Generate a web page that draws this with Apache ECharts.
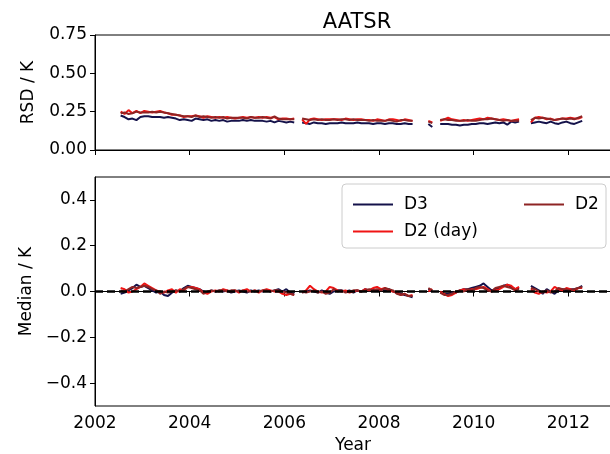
<!DOCTYPE html>
<html lang="en">
<head>
    <meta charset="utf-8">
    <title>AATSR</title>
    <script src="https://cdn.jsdelivr.net/npm/echarts@6/dist/echarts.min.js"></script>
    <style>
        html, body { margin: 0; padding: 0; background: #fff; }
        #main { width: 610px; height: 454px; }
    </style>
</head>
<body>
<div id="main"></div>
<script type="text/javascript">
    // monthly values, first point = July 2002, last = April 2012 (null = no data)
    var startYear = 2002, startMonth = 7;

    var rsdD3 = [
        0.225, 0.215, 0.2, 0.205, 0.195, 0.215,
        0.22, 0.22, 0.215, 0.215, 0.215, 0.21, 0.215, 0.21, 0.205, 0.195, 0.2, 0.195,
        0.19, 0.205, 0.2, 0.195, 0.2, 0.19, 0.195, 0.19, 0.195, 0.185, 0.19, 0.19,
        0.19, 0.195, 0.19, 0.195, 0.19, 0.19, 0.19, 0.185, 0.19, 0.18, 0.19, 0.185,
        0.18, 0.185, 0.18, null, 0.18, 0.175, 0.17, 0.18, 0.175, 0.175, 0.17, 0.175,
        0.175, 0.175, 0.18, 0.175, 0.175, 0.175, 0.18, 0.175, 0.175, 0.175, 0.17, 0.175,
        0.175, 0.17, 0.175, 0.175, 0.17, 0.17, 0.175, 0.17, 0.17, null, null, null,
        0.17, 0.15, null, 0.17, 0.17, 0.17, 0.165, 0.165, 0.16, 0.165, 0.165, 0.17,
        0.17, 0.175, 0.175, 0.17, 0.175, 0.18, 0.175, 0.18, 0.165, 0.185, 0.18, 0.185,
        null, null, 0.175, 0.18, 0.185, 0.18, 0.175, 0.185, 0.175, 0.17, 0.18, 0.185,
        0.175, 0.17, 0.18, 0.19
    ];
    var rsdD2 = [
        0.24, 0.245, 0.235, 0.24, 0.25, 0.245,
        0.245, 0.245, 0.25, 0.245, 0.25, 0.245, 0.24, 0.235, 0.23, 0.225, 0.22, 0.22,
        0.215, 0.225, 0.215, 0.22, 0.215, 0.21, 0.215, 0.21, 0.215, 0.205, 0.21, 0.21,
        0.21, 0.21, 0.205, 0.215, 0.21, 0.21, 0.215, 0.21, 0.205, 0.22, 0.205, 0.2,
        0.2, 0.2, 0.2, null, 0.205, 0.2, 0.195, 0.2, 0.195, 0.2, 0.195, 0.195,
        0.2, 0.195, 0.2, 0.2, 0.195, 0.2, 0.195, 0.195, 0.195, 0.19, 0.195, 0.19,
        0.19, 0.19, 0.195, 0.19, 0.185, 0.195, 0.195, 0.19, 0.19, null, null, null,
        0.185, 0.175, null, 0.195, 0.2, 0.195, 0.195, 0.19, 0.19, 0.19, 0.195, 0.19,
        0.19, 0.195, 0.2, 0.2, 0.205, 0.2, 0.195, 0.19, 0.195, 0.19, 0.19, 0.19,
        null, null, 0.195, 0.21, 0.205, 0.21, 0.205, 0.2, 0.195, 0.2, 0.205, 0.2,
        0.205, 0.2, 0.21, 0.22
    ];
    var rsdD2day = [
        0.25, 0.235, 0.26, 0.24, 0.255, 0.24,
        0.255, 0.25, 0.245, 0.25, 0.255, 0.245, 0.24, 0.23, 0.23, 0.225, 0.215, 0.22,
        0.22, 0.225, 0.22, 0.21, 0.22, 0.215, 0.21, 0.215, 0.21, 0.215, 0.21, 0.205,
        0.21, 0.215, 0.21, 0.215, 0.21, 0.215, 0.21, 0.215, 0.21, 0.215, 0.2, 0.205,
        0.205, 0.2, 0.205, null, 0.2, 0.17, 0.2, 0.205, 0.2, 0.195, 0.2, 0.2,
        0.2, 0.2, 0.195, 0.205, 0.2, 0.195, 0.2, 0.2, 0.195, 0.195, 0.19, 0.2,
        0.195, 0.19, 0.2, 0.2, 0.195, 0.19, 0.2, 0.195, 0.19, null, null, null,
        0.19, 0.18, null, 0.19, 0.2, 0.21, 0.2, 0.195, 0.19, 0.195, 0.19, 0.195,
        0.2, 0.205, 0.2, 0.21, 0.205, 0.2, 0.195, 0.2, 0.195, 0.19, 0.195, 0.2,
        null, null, 0.18, 0.21, 0.215, 0.21, 0.2, 0.205, 0.195, 0.2, 0.205, 0.205,
        0.21, 0.205, 0.205, 0.215
    ];

    var medD3 = [
        -0.01, -0.005, 0.005, 0.015, 0.03, 0.02,
        0.025, 0.015, 0.005, -0.005, 0.0, -0.015, -0.02, -0.005, 0.005, 0.0, 0.015, 0.025,
        0.02, 0.015, 0.01, 0.0, -0.005, 0.005, 0.0, 0.005, 0.0, 0.005, -0.005, 0.0,
        0.005, 0.0, -0.005, 0.005, 0.0, 0.005, 0.0, 0.005, 0.0, 0.005, 0.01, 0.0,
        0.01, -0.005, -0.01, null, -0.005, 0.0, 0.005, 0.0, -0.005, 0.005, -0.005, -0.01,
        0.0, 0.005, 0.005, 0.0, 0.005, -0.005, 0.005, 0.0, 0.01, 0.005, 0.01, 0.005,
        0.01, 0.005, 0.01, 0.0, -0.005, -0.01, -0.015, -0.02, -0.025, null, null, null,
        0.01, 0.0, null, -0.005, -0.01, -0.01, -0.005, -0.005, 0.005, 0.01, 0.01, 0.015,
        0.02, 0.025, 0.035, 0.02, 0.005, 0.01, 0.015, 0.025, 0.03, 0.02, 0.01, 0.015,
        null, null, 0.025, 0.015, 0.005, -0.01, 0.01, 0.0, -0.01, 0.005, 0.01, 0.005,
        0.01, 0.01, 0.015, 0.025
    ];
    var medD2 = [
        0.005, 0.0, 0.01, 0.02, 0.015, 0.02,
        0.025, 0.02, 0.01, 0.005, -0.01, 0.0, -0.005, 0.0, 0.005, 0.0, 0.01, 0.02,
        0.015, 0.01, 0.005, -0.01, 0.0, 0.005, 0.0, 0.005, 0.005, 0.0, 0.005, 0.005,
        0.0, 0.005, 0.0, 0.0, 0.005, 0.0, 0.005, 0.005, 0.0, 0.005, 0.005, 0.0,
        -0.005, -0.01, -0.015, null, 0.0, -0.005, 0.0, 0.005, -0.005, 0.0, -0.01, -0.005,
        0.01, 0.0, 0.005, -0.005, 0.0, 0.005, 0.005, 0.0, 0.005, 0.01, 0.005, 0.01,
        0.005, 0.015, 0.01, 0.005, -0.01, -0.015, -0.01, -0.02, -0.02, null, null, null,
        0.015, 0.005, null, -0.005, -0.015, -0.015, -0.01, 0.0, 0.005, 0.0, 0.01, 0.005,
        0.015, 0.02, 0.015, 0.005, 0.0, 0.015, 0.02, 0.025, 0.02, 0.015, 0.005, 0.01,
        null, null, 0.015, 0.01, 0.0, -0.005, 0.005, -0.005, 0.0, 0.015, 0.01, 0.01,
        0.005, 0.01, 0.015, 0.02
    ];
    var medD2day = [
        0.015, 0.01, -0.005, 0.0, 0.01, 0.02,
        0.035, 0.025, 0.015, 0.005, 0.0, -0.005, 0.005, 0.01, -0.005, 0.01, 0.005, 0.02,
        0.02, 0.015, 0.01, -0.005, -0.01, 0.0, 0.005, 0.0, 0.01, 0.005, 0.0, 0.005,
        -0.005, 0.005, 0.01, 0.0, 0.005, -0.005, 0.005, 0.01, 0.005, 0.0, 0.0, -0.01,
        -0.015, -0.01, -0.015, null, -0.005, 0.005, 0.025, 0.01, 0.0, -0.005, 0.0, 0.02,
        0.015, 0.005, 0.0, 0.005, -0.005, 0.0, 0.005, 0.0, 0.01, 0.005, 0.015, 0.02,
        0.01, 0.015, 0.005, 0.0, -0.005, -0.015, -0.01, -0.02, -0.015, null, null, null,
        0.0, 0.01, null, 0.0, -0.01, -0.02, -0.015, -0.005, 0.005, 0.01, 0.005, 0.01,
        0.01, 0.015, 0.02, 0.01, 0.0, 0.005, 0.01, 0.02, 0.03, 0.025, 0.01, 0.02,
        null, null, 0.01, -0.005, -0.01, 0.0, -0.005, 0.0, 0.02, 0.01, 0.005, 0.015,
        0.01, 0.005, 0.015, 0.015
    ];

    var yearTicks = [2002, 2004, 2006, 2008, 2010, 2012];
    var rsdTicks = [0, 0.25, 0.5, 0.75];
    var medTicks = [-0.4, -0.2, 0, 0.2, 0.4];

    var colD3 = '#14124a';
    var colD2 = '#8e2424';
    var colDay = '#f01414';
    var FONT = 'DejaVu Sans';
    var FS = 17;

    function pairs(arr) {
        return arr.map(function (v, i) {
            var t = startYear + (startMonth - 1 + i + 0.5) / 12;
            return [t, v == null ? '-' : v];
        });
    }

    function xAxis(idx, labels) {
        return {
            type: 'value', gridIndex: idx, min: 2002, max: 2012.9,
            name: labels ? 'Year' : '', nameLocation: 'middle', nameGap: 30,
            nameTextStyle: {fontFamily: FONT, fontSize: FS, color: '#000'},
            axisLine: {lineStyle: {color: '#000', width: 1}},
            axisTick: {show: true, length: 5, customValues: yearTicks, lineStyle: {color: '#000'}},
            axisLabel: {show: labels, customValues: yearTicks, margin: 9,
                fontFamily: FONT, fontSize: FS, color: '#000',
                formatter: function (v) { return String(Math.round(v)); }},
            splitLine: {show: false}
        };
    }

    function line(name, data, color, xi, z) {
        return {
            name: name, type: 'line', xAxisIndex: xi, yAxisIndex: xi,
            data: pairs(data), showSymbol: false, z: z,
            lineStyle: {color: color, width: 2}, itemStyle: {color: color},
            animation: false
        };
    }

    var myChart = echarts.init(document.getElementById('main'), null, {renderer: 'canvas'});

    // zero reference line, drawn above the data like in the original
    var zeroLine = {
        name: 'zero', type: 'line', xAxisIndex: 1, yAxisIndex: 1, z: 6,
        data: [], silent: true, animation: false,
        markLine: {
            silent: true, symbol: 'none', animation: false,
            label: {show: false},
            lineStyle: {color: '#000', type: [8, 4], width: 2.5, opacity: 1},
            data: [{yAxis: 0}]
        }
    };

    myChart.setOption({
        animation: false,
        title: {
            text: 'AATSR', left: 352, top: 7, textAlign: 'center',
            textStyle: {fontFamily: FONT, fontSize: 21, fontWeight: 'normal', color: '#000'}
        },
        graphic: [{
            type: 'rect', z: 50,
            shape: {x: 342, y: 184, width: 264, height: 64, r: 4},
            style: {fill: 'rgba(255,255,255,0.85)', stroke: '#cccccc', lineWidth: 1}
        }],
        legend: [{
            orient: 'vertical', left: 348, top: 190, z: 60,
            data: ['D3', 'D2 (day)'], icon: 'rect', itemWidth: 40, itemHeight: 2, itemGap: 8,
            textStyle: {fontFamily: FONT, fontSize: FS, color: '#000', lineHeight: 19, padding: [0, 0, 0, 6]}
        }, {
            orient: 'vertical', left: 519, top: 190, z: 60,
            data: ['D2'], icon: 'rect', itemWidth: 40, itemHeight: 2,
            textStyle: {fontFamily: FONT, fontSize: FS, color: '#000', lineHeight: 19, padding: [0, 0, 0, 6]}
        }],
        grid: [
            {left: 95, top: 35, right: -1, height: 115, show: true, borderColor: '#000', borderWidth: 1,
                outerBoundsMode: 'none', containLabel: false},
            {left: 95, top: 177, right: -1, height: 229, show: true, borderColor: '#000', borderWidth: 1,
                outerBoundsMode: 'none', containLabel: false}
        ],
        xAxis: [xAxis(0, false), xAxis(1, true)],
        yAxis: [{
            type: 'value', gridIndex: 0, min: 0, max: 0.75,
            name: 'RSD / K', nameLocation: 'middle', nameGap: 58,
            nameTextStyle: {fontFamily: FONT, fontSize: FS, color: '#000'},
            axisLine: {show: true, lineStyle: {color: '#000'}},
            axisTick: {show: true, length: 5, customValues: rsdTicks, lineStyle: {color: '#000'}},
            axisLabel: {customValues: rsdTicks, margin: 8, fontFamily: FONT, fontSize: FS, color: '#000',
                formatter: function (v) { return v.toFixed(2); }},
            splitLine: {show: false}
        }, {
            type: 'value', gridIndex: 1, min: -0.5, max: 0.5,
            name: 'Median / K', nameLocation: 'middle', nameGap: 58,
            nameTextStyle: {fontFamily: FONT, fontSize: FS, color: '#000'},
            axisLine: {show: true, lineStyle: {color: '#000'}},
            axisTick: {show: true, length: 5, customValues: medTicks, lineStyle: {color: '#000'}},
            axisLabel: {customValues: medTicks, margin: 8, fontFamily: FONT, fontSize: FS, color: '#000',
                formatter: function (v) {
                    return (v < -1e-9 ? '\u2212' : '') + Math.abs(v).toFixed(1);
                }},
            splitLine: {show: false}
        }],
        series: [
            line('D3', rsdD3, colD3, 0, 2),
            line('D2 (day)', rsdD2day, colDay, 0, 3),
            line('D2', rsdD2, colD2, 0, 4),
            line('D3', medD3, colD3, 1, 2),
            line('D2 (day)', medD2day, colDay, 1, 3),
            line('D2', medD2, colD2, 1, 4),
            zeroLine
        ]
    });
</script>
</body>
</html>
